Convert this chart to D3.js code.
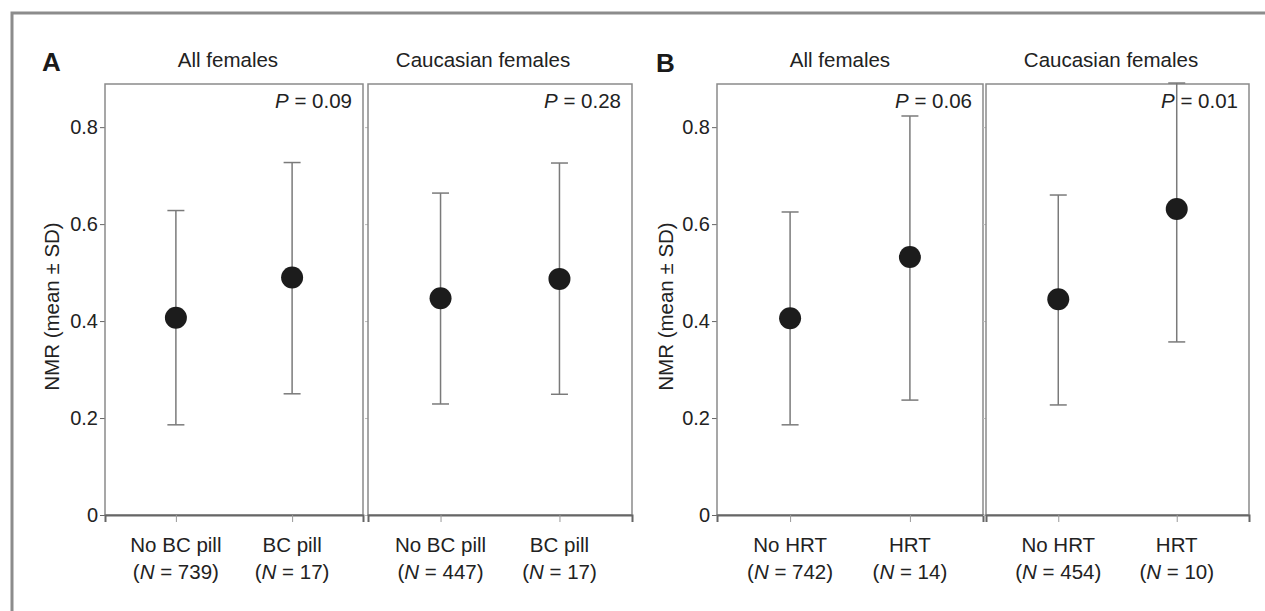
<!DOCTYPE html>
<html>
<head>
<meta charset="utf-8">
<script src="https://cdn.jsdelivr.net/npm/d3@7"></script>
<style>
	body { margin: 0; background: #fff; }
	svg { display: block; font-family: 'Liberation Sans', Arial, sans-serif; }
</style>
</head>
<body>
<svg width="1265" height="611"></svg>
<script>
// values
const groups = ['All females', 'Caucasian females'];
const pillCats = ['No BC pill', 'BC pill'];
const pillN = [[739, 17], [447, 17]];
const pillMean = [[0.407, 0.490], [0.447, 0.487]];
const pillLow = [[0.186, 0.250], [0.229, 0.249]];
const pillHigh = [[0.628, 0.727], [0.664, 0.726]];
const pillP = ['0.09', '0.28'];

const hrtCats = ['No HRT', 'HRT'];
const hrtN = [[742, 14], [454, 10]];
const hrtMean = [[0.406, 0.532], [0.445, 0.631]];
const hrtLow = [[0.186, 0.237], [0.227, 0.357]];
const hrtHigh = [[0.625, 0.823], [0.660, 0.891]];
const hrtP = ['0.06', '0.01'];

const yTicks = [0, 0.2, 0.4, 0.6, 0.8];

const boxColor = '#8a8a8a';
const axisColor = '#666';
const barColor = '#7a7a7a';
const dotColor = '#1c1c1c';
const textColor = '#222';

const svg = d3.select('svg');

// outer frame (top + left only, as in the figure)
svg.append('path')
	.attr('d', 'M12,611V13H1265')
	.attr('fill', 'none')
	.attr('stroke', '#8c8c8c')
	.attr('stroke-width', 3);

const y = d3.scaleLinear()
	.domain([0, 0.889])
	.range([515, 84]);

const panels = [
	{ letter: 'A', lx: 42, ly: 71, labelX: 59, cats: pillCats, n: pillN, mean: pillMean, low: pillLow, high: pillHigh, p: pillP,
		boxes: [[105, 363], [368, 632]], titleX: [228, 483] },
	{ letter: 'B', lx: 656, ly: 72, labelX: 673, cats: hrtCats, n: hrtN, mean: hrtMean, low: hrtLow, high: hrtHigh, p: hrtP,
		boxes: [[717, 983], [986, 1249]], titleX: [840, 1111] },
];

panels.forEach((panel) => {
	const g = svg.append('g');

	g.append('text')
		.attr('x', panel.lx)
		.attr('y', panel.ly)
		.attr('font-size', 26)
		.attr('font-weight', 'bold')
		.attr('fill', '#1a1a1a')
		.text(panel.letter);

	g.append('text')
		.attr('transform', `translate(${panel.labelX},${y(0.43)}) rotate(-90)`)
		.attr('text-anchor', 'middle')
		.attr('font-size', 20.5)
		.attr('fill', textColor)
		.text('NMR (mean \u00b1 SD)');

	panel.boxes.forEach(([x0, x1], gi) => {
		const x = d3.scalePoint()
			.domain(panel.cats)
			.range([x0, x1])
			.padding(0.61);

		// title
		g.append('text')
			.attr('x', panel.titleX[gi])
			.attr('y', 67)
			.attr('text-anchor', 'middle')
			.attr('font-size', 20.5)
			.attr('fill', textColor)
			.text(groups[gi]);

		// y axis
		const yAxis = d3.axisLeft(y)
			.tickValues(yTicks)
			.tickSize(gi === 0 ? 5 : 3)
			.tickPadding(2)
			.tickFormat(d => (gi === 0 ? (d === 0 ? '0' : d3.format('.1f')(d)) : ''));
		const ya = g.append('g')
			.attr('transform', `translate(${x0},0)`)
			.call(yAxis);
		ya.select('.domain').remove();
		ya.selectAll('line').attr('stroke', gi === 0 ? axisColor : '#bbb');
		ya.selectAll('text')
			.attr('font-size', 20)
			.attr('font-family', 'Liberation Sans, Arial, sans-serif')
			.attr('fill', textColor);

		// panel box
		g.append('rect')
			.attr('x', x0)
			.attr('y', y.range()[1])
			.attr('width', x1 - x0)
			.attr('height', y.range()[0] - y.range()[1])
			.attr('fill', 'none')
			.attr('stroke', boxColor)
			.attr('stroke-width', 1.5);

		// x axis
		const xAxis = d3.axisBottom(x)
			.tickSize(7)
			.tickFormat('');
		const xa = g.append('g')
			.attr('transform', `translate(0,${y(0)})`)
			.call(xAxis);
		xa.select('.domain')
			.attr('stroke', axisColor)
			.attr('stroke-width', 2);
		xa.selectAll('line').attr('stroke', '#999');

		panel.cats.forEach((c, ci) => {
			const t = g.append('text')
				.attr('x', x(c))
				.attr('y', 552)
				.attr('text-anchor', 'middle')
				.attr('font-size', 20.5)
				.attr('fill', textColor);
			t.append('tspan').text(c);
			const t2 = g.append('text')
				.attr('x', x(c))
				.attr('y', 579)
				.attr('text-anchor', 'middle')
				.attr('font-size', 20.5)
				.attr('fill', textColor);
			t2.append('tspan').text('(');
			t2.append('tspan').attr('font-style', 'italic').text('N');
			t2.append('tspan').text(` = ${panel.n[gi][ci]})`);
		});

		// p value
		const pt = g.append('text')
			.attr('x', x1 - 11)
			.attr('y', 108)
			.attr('text-anchor', 'end')
			.attr('font-size', 20.5)
			.attr('fill', textColor);
		pt.append('tspan').attr('font-style', 'italic').text('P');
		pt.append('tspan').text(` = ${panel.p[gi]}`);

		// error bars + points
		const rows = panel.cats.map((c, ci) => ({
			cat: c,
			mean: panel.mean[gi][ci],
			low: panel.low[gi][ci],
			high: panel.high[gi][ci],
		}));

		const bars = g.append('g')
			.attr('stroke', barColor)
			.attr('stroke-width', 1.5);

		bars.selectAll('line.v')
			.data(rows)
			.join('line')
			.attr('class', 'v')
			.attr('x1', d => x(d.cat))
			.attr('x2', d => x(d.cat))
			.attr('y1', d => y(d.low))
			.attr('y2', d => y(d.high));

		['low', 'high'].forEach((k) => {
			bars.selectAll(`line.${k}`)
				.data(rows)
				.join('line')
				.attr('class', k)
				.attr('x1', d => x(d.cat) - 8.5)
				.attr('x2', d => x(d.cat) + 8.5)
				.attr('y1', d => y(d[k]))
				.attr('y2', d => y(d[k]));
		});

		g.append('g')
			.selectAll('circle')
			.data(rows)
			.join('circle')
			.attr('cx', d => x(d.cat))
			.attr('cy', d => y(d.mean))
			.attr('r', 11)
			.attr('fill', dotColor);
	});
});
</script>
</body>
</html>
